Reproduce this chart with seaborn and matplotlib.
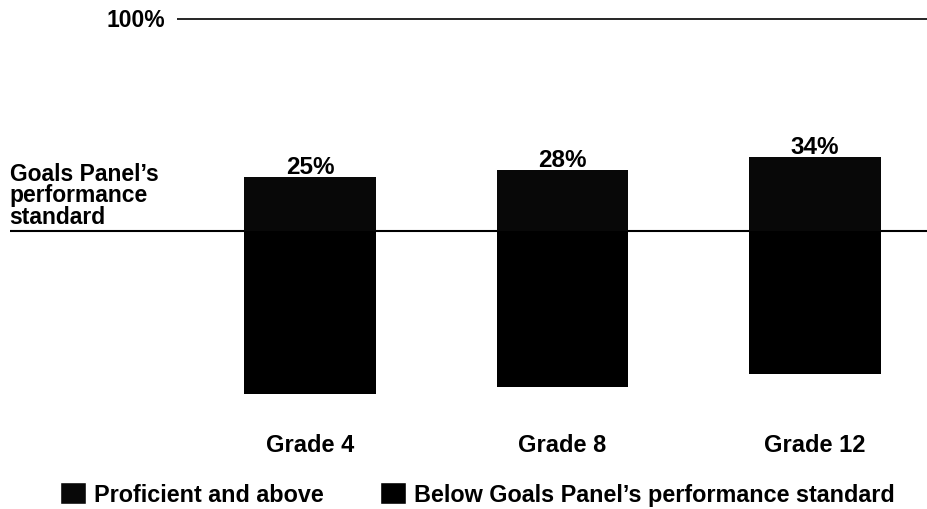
import matplotlib
matplotlib.use("Agg")
import matplotlib.pyplot as plt
import matplotlib.patches as mpatches
import seaborn as sns


# Chart data
grades = ['Grade 4', 'Grade 8', 'Grade 12']
proficient = [25, 28, 34]
below = [75, 72, 66]
value_labels = ['25%', '28%', '34%']
legend_labels = ['Proficient and above', "Below Goals Panel\u2019s performance standard"]

sns.set_style('white')
plt.rcParams['font.family'] = ['Liberation Sans', 'DejaVu Sans']
plt.rcParams['font.weight'] = 'bold'
plt.rcParams['text.color'] = 'black'

fig = plt.figure(figsize=(9.28, 5.10), dpi=100)
ax = fig.add_axes([0, 0, 1, 1])

# stacked bars split at the performance standard (y = 0)
sns.barplot(x=grades, y=proficient, color='#080808', width=0.52,
            saturation=1, linewidth=0, ax=ax, zorder=3)
sns.barplot(x=grades, y=[-v for v in below], color='#000000', width=0.52,
            saturation=1, linewidth=0, ax=ax, zorder=3)

ax.set_xlim(-1.228, 2.448)
ax.set_ylim(-128.1, 106.9)
ax.axis('off')

# performance standard line and 100% line
ax.hlines(0, -1.19, 2.448, color='black', lw=1.5, zorder=2)
ax.hlines(97.5, -0.527, 2.448, color='black', lw=1.2, zorder=2)
ax.text(-0.575, 97.5, '100%', ha='right', va='center', fontsize=16.5, fontweight='bold')

ax.text(-1.19, 31.8, "Goals Panel\u2019s\nperformance\nstandard", ha='left', va='top',
        fontsize=16.5, fontweight='bold', linespacing=0.91)

for i, (p, lab) in enumerate(zip(proficient, value_labels)):
    ax.text(i, p + 1.8, lab, ha='center', va='baseline', fontsize=17.5, fontweight='bold')

for i, g in enumerate(grades):
    ax.text(i, -101.4, g, ha='center', va='baseline', fontsize=17, fontweight='bold')

handles = [mpatches.Patch(facecolor='#080808'), mpatches.Patch(facecolor='#000000')]
ax.legend(handles, legend_labels, loc='center left', bbox_to_anchor=(0.065, 0.03),
          ncol=2, frameon=False, handlelength=1.1, handleheight=1.1,
          handletextpad=0.35, columnspacing=2.4, borderpad=0, borderaxespad=0,
          prop={'size': 16.8, 'weight': 'bold'})

fig.savefig('out.png', dpi=100)
